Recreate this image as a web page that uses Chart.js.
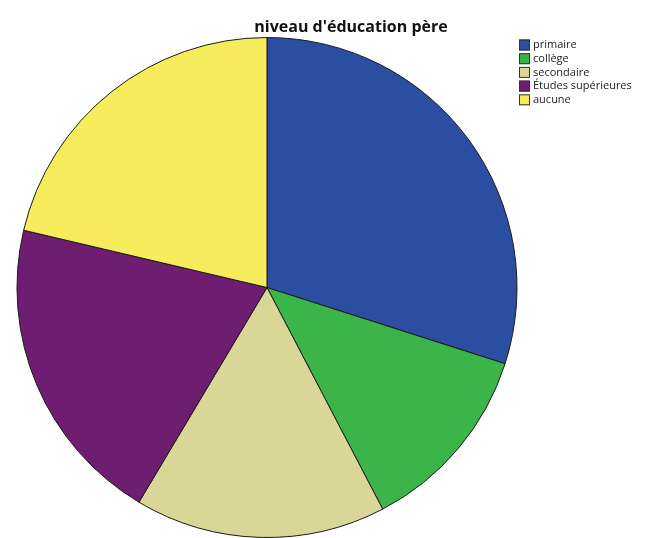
<!DOCTYPE html>
<html>
<head>
<meta charset="utf-8">
<script src="https://cdn.jsdelivr.net/npm/chart.js@4"></script>
<style>
  body { margin: 0; background: #fff; }
  #wrap { width: 655px; height: 538px; }
</style>
</head>
<body>
<div id="wrap"><canvas id="myChart" width="655" height="538"></canvas></div>
<script>
const titleText = "niveau d'éducation père";
const labels = ["primaire", "collège", "secondaire", "Études supérieures", "aucune"];
const values = [29.9, 12.4, 16.2, 20.1, 21.3];
const colors = ["#2b4ea2", "#3bb54a", "#dad697", "#6f1d70", "#f6ec5c"];

// title and legend drawn by hand, placed like the original
const overlay = {
  id: "overlay",
  afterDraw(chart) {
    const c = chart.ctx;
    c.save();
    c.fillStyle = "#111";
    c.font = "bold 16px 'Open Sans'";
    c.textAlign = "center";
    c.textBaseline = "middle";
    c.fillText(titleText, 351, 27);

    c.font = "11px 'Open Sans'";
    c.textAlign = "left";
    labels.forEach((lab, i) => {
      const y = 45 + i * 13.7;
      c.fillStyle = colors[i];
      c.fillRect(519, y - 5.5, 11, 11);
      c.strokeStyle = "#333";
      c.lineWidth = 1;
      c.strokeRect(519.5, y - 5, 10, 10);
      c.fillStyle = "#222";
      c.fillText(lab, 533, y);
    });
    c.restore();
  },
};

const ctx = document.getElementById("myChart").getContext("2d");
const myChart = new Chart(ctx, {
  type: "pie",
  data: {
    labels: labels,
    datasets: [
      {
        data: values,
        backgroundColor: colors,
        borderColor: "#1a1a1a",
        borderWidth: 1,
      },
    ],
  },
  options: {
    responsive: false,
    animation: false,
    layout: {
      padding: { top: 37, bottom: 0, left: 16, right: 137 },
    },
    plugins: {
      legend: { display: false },
      tooltip: { enabled: false },
    },
  },
  plugins: [overlay],
});
</script>
</body>
</html>
